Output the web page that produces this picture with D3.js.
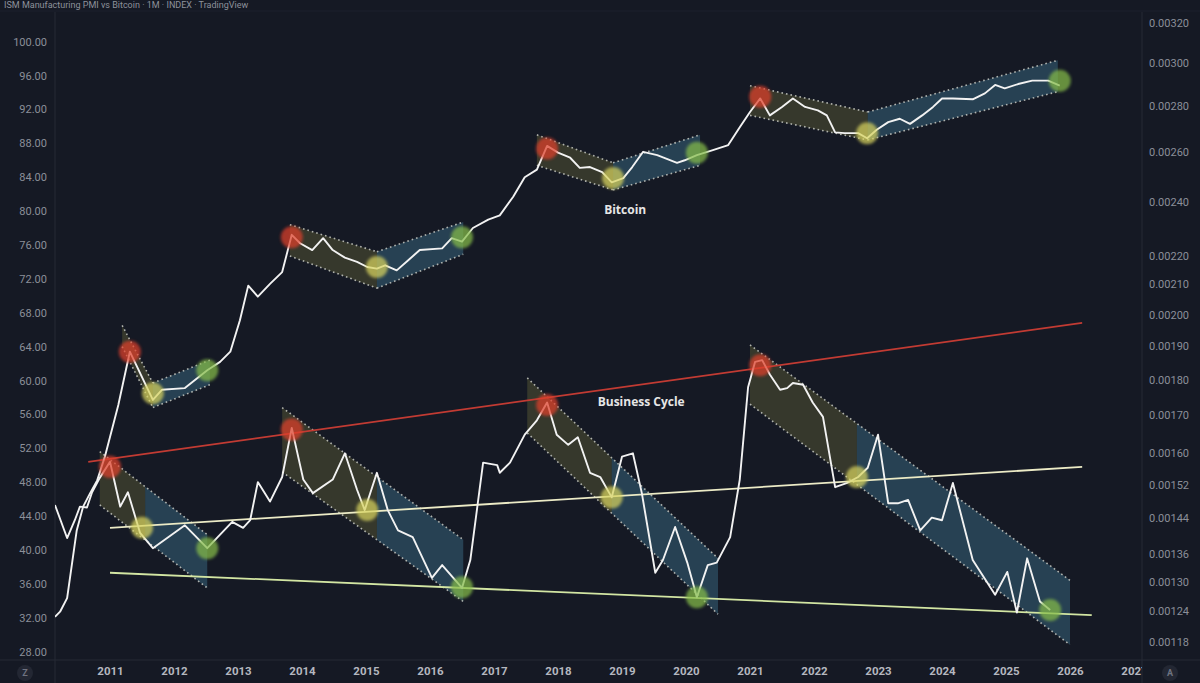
<!DOCTYPE html>
<html>
<head>
<meta charset="utf-8">
<script src="https://cdn.jsdelivr.net/npm/d3@7"></script>
<style>
  html, body { margin: 0; background: #151924; }
  svg { display: block; }
</style>
</head>
<body>
<svg id="chart" width="1200" height="683"></svg>
<script>
// --- Data (decimal year, left-axis value)
const yearTicks = [2011, 2012, 2013, 2014, 2015, 2016, 2017, 2018, 2019, 2020, 2021, 2022, 2023, 2024, 2025, 2026, 2027];
const leftTicks = [28, 32, 36, 40, 44, 48, 52, 56, 60, 64, 68, 72, 76, 80, 84, 88, 92, 96, 100];
const rightTicks = [0.00118, 0.00124, 0.00130, 0.00136, 0.00144, 0.00152, 0.00160, 0.00170, 0.00180,
  0.00190, 0.00200, 0.00210, 0.00220, 0.00240, 0.00260, 0.00280, 0.00300, 0.00320];

const bitcoin = [
  [2010.14, 32.1], [2010.22, 32.7], [2010.33, 34.3], [2010.48, 42.3], [2010.58, 45.1], [2010.69, 46.7],
  [2010.80, 48.2], [2010.92, 51.0], [2011.13, 57.1], [2011.31, 63.4], [2011.67, 57.7], [2011.81, 58.9],
  [2012.17, 59.1], [2012.52, 61.2], [2012.72, 62.2], [2012.88, 63.4], [2013.03, 67.1], [2013.16, 71.2],
  [2013.31, 69.9], [2013.50, 71.4], [2013.69, 72.8], [2013.84, 77.2], [2013.97, 76.2], [2014.16, 75.4],
  [2014.33, 76.8], [2014.48, 75.4], [2014.67, 74.5], [2014.86, 74.0], [2015.02, 73.4], [2015.17, 73.2],
  [2015.30, 73.6], [2015.48, 73.0], [2015.66, 74.2], [2015.84, 75.4], [2016.19, 75.6], [2016.34, 76.8],
  [2016.50, 76.4], [2016.67, 78.0], [2016.91, 79.0], [2017.09, 79.5], [2017.30, 81.7], [2017.48, 84.0],
  [2017.67, 84.9], [2017.83, 87.7], [2018.00, 86.9], [2018.19, 86.3], [2018.34, 85.1], [2018.50, 85.2],
  [2018.69, 84.6], [2018.84, 83.4], [2019.02, 83.9], [2019.16, 85.2], [2019.33, 87.0], [2019.55, 86.6],
  [2019.86, 85.7], [2019.98, 86.0], [2020.17, 86.6], [2020.42, 87.2], [2020.66, 87.8], [2020.84, 89.9],
  [2021.00, 91.7], [2021.16, 93.3], [2021.31, 91.3], [2021.50, 92.3], [2021.67, 93.3], [2021.86, 92.3],
  [2022.06, 91.9], [2022.20, 91.3], [2022.33, 89.3], [2022.48, 89.2], [2022.69, 89.2], [2022.83, 88.6],
  [2022.98, 89.6], [2023.16, 90.5], [2023.34, 90.9], [2023.50, 90.3], [2023.69, 91.3], [2023.86, 92.3],
  [2024.00, 93.3], [2024.17, 93.3], [2024.48, 93.2], [2024.67, 93.9], [2024.83, 94.9], [2024.98, 94.5],
  [2025.19, 95.0], [2025.41, 95.4], [2025.66, 95.4], [2025.84, 94.8]
];

const businessCycle = [
  [2010.14, 45.3], [2010.33, 41.4], [2010.45, 43.5], [2010.53, 45.1], [2010.64, 45.0], [2010.72, 46.8],
  [2010.84, 48.5], [2011.00, 50.4], [2011.16, 45.1], [2011.28, 46.8], [2011.47, 42.0], [2011.67, 40.2],
  [2012.17, 42.9], [2012.52, 40.2], [2012.72, 41.8], [2012.91, 43.3], [2013.08, 42.6], [2013.19, 43.5],
  [2013.31, 48.0], [2013.50, 45.7], [2013.69, 48.6], [2013.84, 54.4], [2014.02, 48.3], [2014.17, 46.7],
  [2014.48, 48.3], [2014.67, 51.4], [2014.86, 47.1], [2014.98, 44.7], [2015.17, 49.1], [2015.34, 44.7],
  [2015.50, 42.3], [2015.73, 41.5], [2016.03, 36.7], [2016.19, 38.2], [2016.50, 35.5], [2016.63, 38.8],
  [2016.83, 50.3], [2017.05, 50.0], [2017.09, 49.1], [2017.25, 50.3], [2017.48, 53.6], [2017.67, 55.3],
  [2017.83, 57.4], [2017.98, 53.6], [2018.16, 52.4], [2018.31, 53.3], [2018.50, 49.1], [2018.66, 48.6],
  [2018.84, 46.2], [2019.00, 51.0], [2019.17, 51.4], [2019.31, 46.7], [2019.52, 37.3], [2019.64, 38.8],
  [2019.83, 42.7], [2020.02, 38.5], [2020.17, 34.4], [2020.34, 38.2], [2020.48, 38.5], [2020.69, 41.5],
  [2020.84, 48.3], [2020.97, 59.2], [2021.08, 62.2], [2021.19, 62.4], [2021.31, 60.7], [2021.47, 58.9],
  [2021.58, 59.1], [2021.67, 59.7], [2021.83, 59.5], [2021.98, 57.4], [2022.14, 55.7], [2022.33, 47.4],
  [2022.52, 47.9], [2022.69, 48.6], [2022.84, 49.7], [2023.00, 53.6], [2023.16, 45.5], [2023.31, 45.5],
  [2023.47, 45.9], [2023.66, 42.3], [2023.84, 43.8], [2024.00, 43.5], [2024.17, 47.9], [2024.48, 38.8],
  [2024.83, 34.7], [2025.02, 37.4], [2025.17, 32.6], [2025.33, 39.0], [2025.53, 33.9], [2025.69, 32.9]
];

// falling (olive) and rising (blue) bands around bitcoin
const bitcoinChannels = [
  { from: 2011.19, to: 2011.67, top: [66.5, 59.7], bottom: [64.0, 56.8], phase: "down" },
  { from: 2011.67, to: 2012.56, top: [59.7, 62.4], bottom: [56.8, 59.5], phase: "up" },
  { from: 2013.81, to: 2015.17, top: [78.4, 75.2], bottom: [74.7, 70.9], phase: "down" },
  { from: 2015.17, to: 2016.52, top: [75.2, 78.7], bottom: [70.9, 74.9], phase: "up" },
  { from: 2017.67, to: 2018.86, top: [89.0, 85.7], bottom: [85.4, 82.5], phase: "down" },
  { from: 2018.86, to: 2020.22, top: [85.7, 89.0], bottom: [82.5, 85.4], phase: "up" },
  { from: 2021.00, to: 2022.84, top: [94.8, 91.7], bottom: [91.3, 88.4], phase: "down" },
  { from: 2022.84, to: 2025.81, top: [91.7, 97.8], bottom: [88.4, 94.1], phase: "up" }
];

// straight falling bands around the business cycle, colour changes at "turn"
const businessChannels = [
  { from: 2010.84, turn: 2011.55, to: 2012.52, top: [51.6, 41.8], bottom: [45.3, 35.5] },
  { from: 2013.69, turn: 2015.17, to: 2016.52, top: [56.8, 41.2], bottom: [49.2, 33.9] },
  { from: 2017.52, turn: 2018.84, to: 2020.50, top: [60.3, 39.0], bottom: [53.8, 32.4] },
  { from: 2021.00, turn: 2022.67, to: 2026.00, top: [64.2, 36.4], bottom: [57.2, 28.8] }
];

const trendLines = [
  { from: [2010.66, 50.4], to: [2026.19, 66.8], color: "#c23b33" },
  { from: [2011.00, 42.6], to: [2026.19, 49.8], color: "#ecebc6" },
  { from: [2011.00, 37.3], to: [2026.34, 32.3], color: "#d3e6a3" }
];

const bitcoinMarkers = [
  [2011.31, 63.4, "top"], [2011.67, 58.5, "low"], [2012.52, 61.2, "up"],
  [2013.84, 76.9, "top"], [2015.17, 73.4, "low"], [2016.50, 76.9, "up"],
  [2017.83, 87.4, "top"], [2018.86, 83.9, "low"], [2020.17, 86.9, "up"],
  [2021.16, 93.5, "top"], [2022.83, 89.2, "low"], [2025.84, 95.4, "up"]
];
const businessMarkers = [
  [2011.00, 49.8, "top"], [2011.50, 42.6, "low"], [2012.52, 40.2, "up"],
  [2013.84, 54.2, "top"], [2015.02, 44.7, "low"], [2016.50, 35.6, "up"],
  [2017.83, 57.1, "top"], [2018.84, 46.2, "low"], [2020.17, 34.4, "up"],
  [2021.16, 61.8, "top"], [2022.67, 48.6, "low"], [2025.69, 32.9, "up"]
];

const markerColor = { top: "#e0402c", low: "#d8d45e", up: "#86bd49" };
const bandFill = { down: "rgba(125,125,62,0.32)", up: "rgba(72,135,165,0.36)" };

// --- Layout
const svg = d3.select("#chart");
const W = 1200, H = 683;
const plot = { left: 55, right: 1142, top: 12, bottom: 660 };

const x = d3.scaleLinear().domain([2011, 2027]).range([110, 1134]);
const y = d3.scaleLinear().domain([28, 100]).range([651.5, 41.7]);
const yRight = d3.scaleLog().domain([0.00118, 0.0032]).range([642, 23]);

svg.append("rect").attr("width", W).attr("height", H).attr("fill", "#151924");

const defs = svg.append("defs");
defs.append("clipPath").attr("id", "plotClip")
  .append("rect").attr("x", plot.left).attr("y", plot.top)
  .attr("width", plot.right - plot.left).attr("height", plot.bottom - plot.top);
defs.append("clipPath").attr("id", "timeClip")
  .append("rect").attr("x", plot.left).attr("y", plot.bottom)
  .attr("width", plot.right - plot.left).attr("height", H - plot.bottom);
defs.append("filter").attr("id", "soft")
  .append("feGaussianBlur").attr("stdDeviation", 1.6);

// --- Title strip
svg.append("text")
  .attr("x", 4).attr("y", 8)
  .attr("fill", "#8d919b")
  .style("font", "9px Roboto, sans-serif")
  .text("ISM Manufacturing PMI vs Bitcoin · 1M · INDEX · TradingView");
svg.append("line")
  .attr("x1", 0).attr("x2", W).attr("y1", plot.top - 1).attr("y2", plot.top - 1)
  .attr("stroke", "#1d212c");

// --- Panel separators
svg.append("line").attr("x1", plot.left).attr("x2", plot.left).attr("y1", plot.top).attr("y2", H)
  .attr("stroke", "#262a35");
svg.append("line").attr("x1", plot.right).attr("x2", plot.right).attr("y1", plot.top).attr("y2", H)
  .attr("stroke", "#262a35");
svg.append("line").attr("x1", 0).attr("x2", W).attr("y1", plot.bottom).attr("y2", plot.bottom)
  .attr("stroke", "#262a35");

const g = svg.append("g").attr("clip-path", "url(#plotClip)");

// --- Channels
const bandPoly = (t0, t1, top, bottom) => [
  [x(t0), y(top[0])], [x(t1), y(top[1])], [x(t1), y(bottom[1])], [x(t0), y(bottom[0])]
];
const lerp = (a, b, k) => a + (b - a) * k;

g.selectAll(".btc-band")
  .data(bitcoinChannels)
  .enter()
  .append("polygon")
  .attr("class", "btc-band")
  .attr("points", d => bandPoly(d.from, d.to, d.top, d.bottom).join(" "))
  .attr("fill", d => bandFill[d.phase]);

businessChannels.forEach(d => {
  const k = (d.turn - d.from) / (d.to - d.from);
  const midTop = lerp(d.top[0], d.top[1], k);
  const midBot = lerp(d.bottom[0], d.bottom[1], k);
  g.append("polygon")
    .attr("points", bandPoly(d.from, d.turn, [d.top[0], midTop], [d.bottom[0], midBot]).join(" "))
    .attr("fill", bandFill.down);
  g.append("polygon")
    .attr("points", bandPoly(d.turn, d.to, [midTop, d.top[1]], [midBot, d.bottom[1]]).join(" "))
    .attr("fill", bandFill.up);
});

// dotted channel edges
const edges = [];
bitcoinChannels.concat(businessChannels).forEach(d => {
  edges.push([[d.from, d.top[0]], [d.to, d.top[1]]]);
  edges.push([[d.from, d.bottom[0]], [d.to, d.bottom[1]]]);
});
g.selectAll(".edge")
  .data(edges)
  .enter()
  .append("line")
  .attr("class", "edge")
  .attr("x1", d => x(d[0][0])).attr("y1", d => y(d[0][1]))
  .attr("x2", d => x(d[1][0])).attr("y2", d => y(d[1][1]))
  .attr("stroke", "#c9cbc4")
  .attr("stroke-width", 1.6)
  .attr("stroke-dasharray", "1.6,3")
  .attr("opacity", 0.85);

// --- Trend lines
g.selectAll(".trend")
  .data(trendLines)
  .enter()
  .append("line")
  .attr("class", "trend")
  .attr("x1", d => x(d.from[0])).attr("y1", d => y(d.from[1]))
  .attr("x2", d => x(d.to[0])).attr("y2", d => y(d.to[1]))
  .attr("stroke", d => d.color)
  .attr("stroke-width", 1.8);

// --- Series
const line = d3.line().x(d => x(d[0])).y(d => y(d[1]));
[businessCycle, bitcoin].forEach(series => {
  g.append("path")
    .datum(series)
    .attr("d", line)
    .attr("fill", "none")
    .attr("stroke", "#f2f2f2")
    .attr("stroke-width", 1.9)
    .attr("stroke-linejoin", "round");
});

// --- Turning point markers
g.selectAll(".marker")
  .data(bitcoinMarkers.concat(businessMarkers))
  .enter()
  .append("circle")
  .attr("class", "marker")
  .attr("cx", d => x(d[0]))
  .attr("cy", d => y(d[1]))
  .attr("r", 11)
  .attr("fill", d => markerColor[d[2]])
  .attr("opacity", 0.72)
  .attr("filter", "url(#soft)");

// --- Series labels
const labels = [
  { text: "Bitcoin", at: [2019.05, 79.6] },
  { text: "Business Cycle", at: [2019.3, 57.0] }
];
g.selectAll(".series-label")
  .data(labels)
  .enter()
  .append("text")
  .attr("class", "series-label")
  .attr("x", d => x(d.at[0]))
  .attr("y", d => y(d.at[1]))
  .attr("text-anchor", "middle")
  .attr("fill", "#e6e6e6")
  .style("font", "bold 12px 'Open Sans', sans-serif")
  .text(d => d.text);

// --- Axes
const tickText = sel => sel.call(s => s.select(".domain").remove())
  .selectAll("text").attr("fill", "#8b8f99").style("font-family", "Roboto, sans-serif");

svg.append("g")
  .attr("transform", "translate(47,0)")
  .call(d3.axisLeft(y).tickValues(leftTicks).tickFormat(d3.format(".2f")).tickSize(0).tickPadding(0))
  .call(tickText)
  .selectAll("text").style("font-size", "11px");

svg.append("g")
  .attr("transform", "translate(1149,0)")
  .call(d3.axisRight(yRight).tickValues(rightTicks).tickFormat(d3.format(".5f")).tickSize(0).tickPadding(0))
  .call(tickText)
  .selectAll("text").style("font-size", "11px");

svg.append("g")
  .attr("clip-path", "url(#timeClip)")
  .append("g")
  .attr("transform", "translate(0,667)")
  .call(d3.axisBottom(x).tickValues(yearTicks).tickFormat(d3.format("d")).tickSize(0).tickPadding(0))
  .call(tickText)
  .selectAll("text")
  .attr("fill", "#b4b7bf")
  .style("font-size", "11.5px")
  .style("font-weight", "bold");

// --- Corner buttons
const buttons = [{ cx: 25, label: "Z" }, { cx: 1170, label: "A" }];
const btn = svg.selectAll(".btn")
  .data(buttons)
  .enter()
  .append("g")
  .attr("class", "btn")
  .attr("transform", d => `translate(${d.cx},673)`);
btn.append("circle").attr("r", 8).attr("fill", "#232733");
btn.append("text")
  .attr("text-anchor", "middle")
  .attr("dy", "0.35em")
  .attr("fill", "#6f7380")
  .style("font", "bold 9px Roboto, sans-serif")
  .text(d => d.label);
</script>
</body>
</html>
